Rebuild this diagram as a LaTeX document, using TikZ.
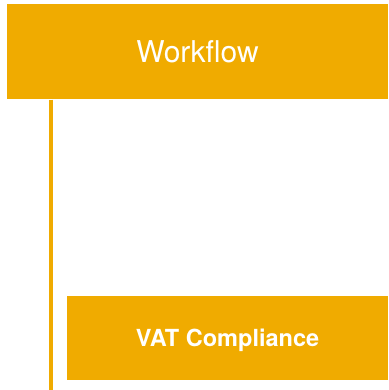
\documentclass[tikz,border=0pt]{standalone}
\usepackage{fontspec}
\setmainfont{TeX Gyre Heros}
\definecolor{sapgold}{RGB}{240,171,0}
\begin{document}
\begin{tikzpicture}[x=1pt,y=1pt,
  goldbox/.style={fill=sapgold, draw=none, inner sep=0pt, text=white, align=center, text depth=0pt},
  stem/.style={draw=sapgold, line width=4.3pt}]
\useasboundingbox (0,0) rectangle (388,390);
\node[goldbox, minimum width=381pt, minimum height=95.5pt, text height=21.6pt, font=\fontsize{30}{36}\selectfont] (wf) at (197.5,338.25) {Workflow};
\node[goldbox, minimum width=321pt, minimum height=84pt, text height=17pt, font=\fontsize{23.5}{28}\selectfont\bfseries] (vat) at (227.5,51.5) {VAT Compliance};
\coordinate (stemend) at (51.3,0);
\draw[stem] (wf.south -| stemend) -- (stemend);
\end{tikzpicture}
\end{document}
